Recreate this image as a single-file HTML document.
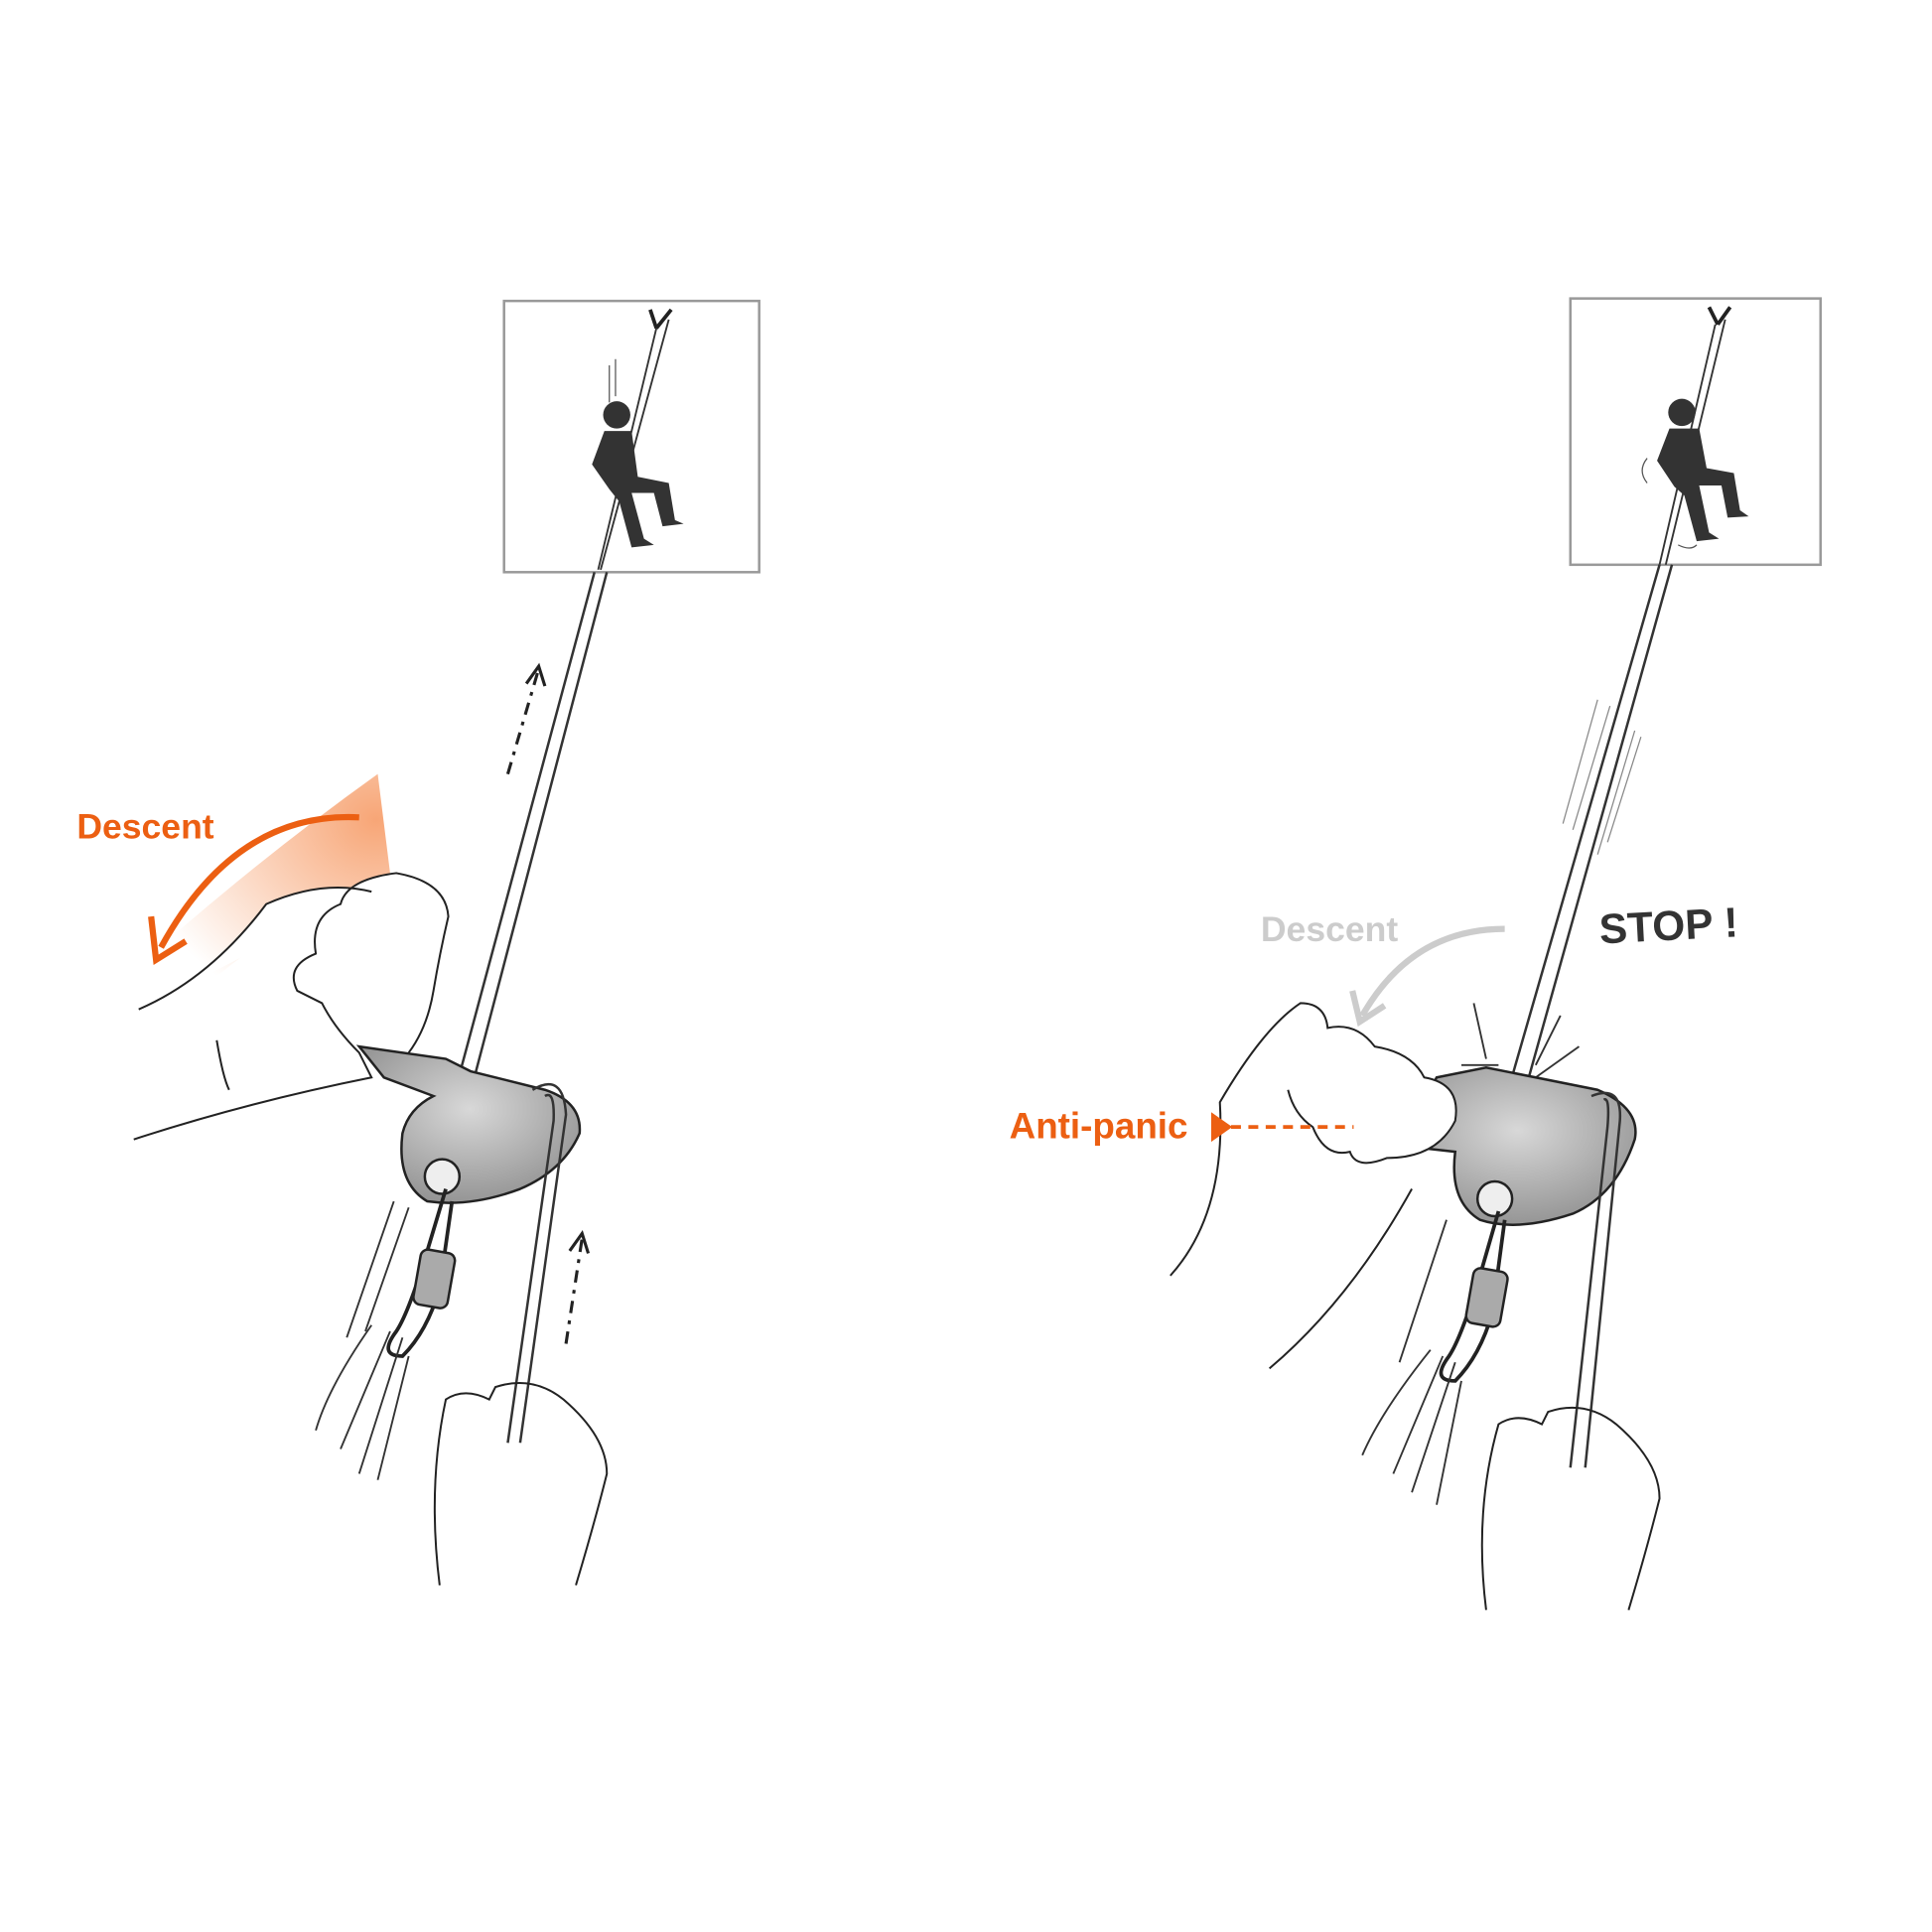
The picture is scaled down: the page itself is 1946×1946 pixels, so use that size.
<!DOCTYPE html>
<html><head><meta charset="utf-8"><style>
html,body{margin:0;padding:0;background:#fff;}
svg{display:block;}
text{font-family:"Liberation Sans",sans-serif;font-weight:bold;}
</style></head><body>
<svg width="1946" height="1946" viewBox="0 0 1560 1560" xmlns="http://www.w3.org/2000/svg">
<defs>
<radialGradient id="g1" cx="0.95" cy="0.2" r="0.9">
<stop offset="0" stop-color="#f26a1b" stop-opacity="0.6"/>
<stop offset="1" stop-color="#f26a1b" stop-opacity="0"/>
</radialGradient>
<radialGradient id="dev" cx="0.5" cy="0.4" r="0.7">
<stop offset="0" stop-color="#d8d8d8"/><stop offset="1" stop-color="#8a8a8a"/>
</radialGradient>
</defs>
<rect width="1560" height="1560" fill="#fff"/>

<!-- LEFT PANEL -->
<rect x="407" y="243" width="206" height="219" fill="#fff" stroke="#999" stroke-width="2"/>
<path d="M483 460 L530 265 M485 460 L540 258" stroke="#333" stroke-width="1.5" fill="none"/>
<path d="M530 265 L525 250 M530 265 L542 250" stroke="#222" stroke-width="3" fill="none"/>
<circle cx="498" cy="335" r="11" fill="#333"/>
<path d="M488 348 L510 348 L515 385 L540 390 L545 420 L552 423 L535 425 L528 398 L510 398 L520 435 L528 440 L510 442 L500 405 L492 395 L478 375 Z" fill="#333"/>
<path d="M492 295v30M497 290v30" stroke="#555" stroke-width="1"/>

<path d="M480 462 L365 890 M490 462 L377 893" stroke="#333" stroke-width="2" fill="none"/>
<path d="M410 625 L435 540" stroke="#222" stroke-width="2.5" stroke-dasharray="10 6 3 6" fill="none"/>
<path d="M425 552 L435 538 L440 554" stroke="#222" stroke-width="2.5" fill="none"/>

<path d="M95 795 Q200 700 305 625 L315 705 Q220 745 150 810 Z" fill="url(#g1)"/>
<path d="M290 660 Q190 655 130 765" stroke="#ec5f12" stroke-width="5" fill="none"/>
<path d="M122 740 L126 775 L150 760" stroke="#ec5f12" stroke-width="5" fill="none"/>
<text x="62" y="677" font-size="28.5" fill="#ec5f12">Descent</text>

<g stroke="#222" stroke-width="1.6" fill="#fff">
<path d="M108 920 Q200 890 300 870 L290 850 Q270 830 260 810 L240 800 Q230 780 255 770 Q250 740 275 730 Q280 710 320 705 Q360 712 362 740 Q355 770 350 800 Q345 830 330 850 M112 815 Q170 790 215 730 Q260 710 300 720"/>
<path d="M175 840 Q180 870 185 880"/>
</g>
<path d="M290 845 L360 855 L380 865 L440 880 Q470 890 468 915 Q455 945 420 960 Q380 975 345 970 Q320 955 325 915 Q330 895 350 885 L310 870 Z" fill="url(#dev)" stroke="#222" stroke-width="2"/>
<circle cx="357" cy="950" r="14" fill="#eee" stroke="#222" stroke-width="2"/>
<path d="M360 960 L345 1010 Q330 1060 320 1075 Q305 1095 325 1095 Q345 1075 355 1040 L365 970" stroke="#222" stroke-width="3" fill="none"/>
<rect x="337" y="1010" width="28" height="45" rx="6" fill="#aaa" stroke="#222" stroke-width="2" transform="rotate(10 350 1030)"/>
<path d="M318 970 L280 1080 M330 975 L295 1075 M300 1070 Q265 1120 255 1155 M315 1075 L275 1170 M325 1080 L290 1190 M330 1095 L305 1195" stroke="#333" stroke-width="1.5" fill="none"/>
<path d="M430 880 Q455 865 457 900 L420 1165 M440 885 Q448 880 447 905 L410 1165" stroke="#333" stroke-width="2" fill="none"/>
<path d="M457 1085 L470 1000" stroke="#222" stroke-width="2.5" stroke-dasharray="10 6 3 6" fill="none"/>
<path d="M460 1010 L470 996 L475 1012" stroke="#222" stroke-width="2.5" fill="none"/>
<path d="M355 1280 Q345 1200 360 1130 Q375 1120 395 1130 L400 1120 Q430 1110 455 1130 Q490 1160 490 1190 Q480 1230 465 1280" stroke="#222" stroke-width="1.6" fill="none"/>

<!-- RIGHT PANEL -->
<rect x="1268" y="241" width="202" height="215" fill="#fff" stroke="#999" stroke-width="2"/>
<path d="M1340 456 L1385 262 M1345 456 L1393 258" stroke="#333" stroke-width="1.5" fill="none"/>
<path d="M1387 262 L1380 248 M1387 262 L1397 248" stroke="#222" stroke-width="3" fill="none"/>
<circle cx="1358" cy="333" r="11" fill="#333"/>
<path d="M1348 346 L1372 346 L1378 378 L1400 382 L1405 412 L1412 417 L1395 418 L1390 392 L1372 392 L1380 430 L1388 435 L1370 437 L1360 400 L1352 393 L1338 372 Z" fill="#333"/>
<path d="M1330 370 q-8 10 0 20 M1355 440 q10 5 15 0" stroke="#555" stroke-width="1" fill="none"/>

<path d="M1340 456 L1215 890 M1350 456 L1228 893" stroke="#333" stroke-width="2" fill="none"/>
<path d="M1262 665 L1290 565 M1270 670 L1300 570 M1290 690 L1320 590 M1298 680 L1325 595" stroke="#888" stroke-width="1" fill="none"/>
<text x="1292" y="762" font-size="34" fill="#333" transform="rotate(-3 1292 762)">STOP !</text>
<path d="M1215 750 Q1140 750 1100 820" stroke="#ccc" stroke-width="5" fill="none"/>
<path d="M1092 800 L1098 825 L1118 812" stroke="#ccc" stroke-width="5" fill="none"/>
<text x="1018" y="760" font-size="28.5" fill="#ccc">Descent</text>
<path d="M1190 810 L1200 855 M1260 820 L1240 860 M1275 845 L1240 870 M1180 860 L1210 860" stroke="#333" stroke-width="1.5"/>

<path d="M1130 925 L1160 870 L1200 862 L1290 880 Q1325 895 1320 920 Q1305 965 1270 980 Q1225 995 1195 985 Q1170 970 1175 930 Z" fill="url(#dev)" stroke="#222" stroke-width="2"/>
<circle cx="1207" cy="968" r="14" fill="#eee" stroke="#222" stroke-width="2"/>
<path d="M1210 978 L1195 1030 Q1180 1080 1170 1095 Q1155 1115 1175 1115 Q1195 1095 1205 1060 L1215 985" stroke="#222" stroke-width="3" fill="none"/>
<rect x="1187" y="1025" width="28" height="45" rx="6" fill="#aaa" stroke="#222" stroke-width="2" transform="rotate(10 1200 1045)"/>
<path d="M1168 985 L1130 1100 M1155 1090 Q1115 1140 1100 1175 M1165 1095 L1125 1190 M1175 1100 L1140 1205 M1180 1115 L1160 1215" stroke="#333" stroke-width="1.5" fill="none"/>
<path d="M1285 885 Q1310 875 1308 905 L1280 1185 M1295 888 Q1300 885 1298 910 L1268 1185" stroke="#333" stroke-width="2" fill="none"/>

<g stroke="#222" stroke-width="1.6" fill="#fff">
<path d="M945 1030 Q990 980 985 890 Q1020 830 1050 810 Q1070 810 1072 830 Q1095 825 1110 845 Q1140 850 1150 870 Q1180 875 1175 905 Q1160 935 1120 935 Q1095 945 1090 930 Q1070 935 1060 910 Q1045 900 1040 880"/>
<path d="M1025 1105 Q1090 1050 1140 960" fill="none"/>
</g>
<path d="M980 910 L1093 910" stroke="#ec5f12" stroke-width="3" stroke-dasharray="8 6" fill="none"/>
<path d="M978 898 L978 922 L995 910 Z" fill="#ec5f12"/>
<text x="815" y="919" font-size="29.5" fill="#ec5f12">Anti-panic</text>

<path d="M1200 1300 Q1190 1220 1210 1150 Q1225 1140 1245 1150 L1250 1140 Q1280 1130 1305 1150 Q1340 1180 1340 1210 Q1330 1250 1315 1300" stroke="#222" stroke-width="1.6" fill="none"/>
</svg>
</body></html>
